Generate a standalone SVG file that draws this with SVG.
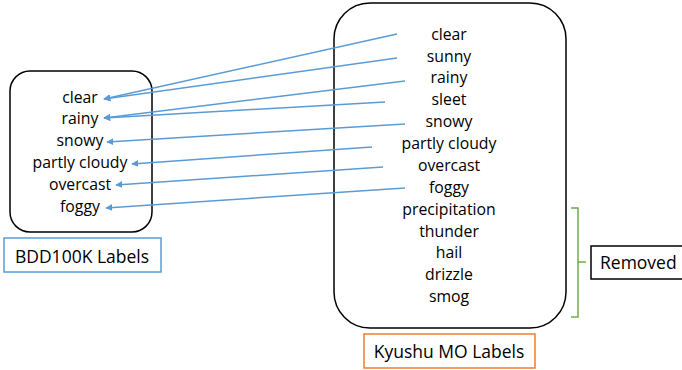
<svg xmlns="http://www.w3.org/2000/svg" width="682" height="370" viewBox="0 0 682 370">
  <defs>
    <marker id="arrow" viewBox="0 0 10 10" refX="9" refY="5" markerWidth="7" markerHeight="7" markerUnits="userSpaceOnUse" orient="auto">
      <path d="M0,0 L10,5 L0,10 Z" fill="#5B9BD5"/>
    </marker>
    <style>
      .box { fill: #fff; stroke: #000; stroke-width: 1.5; }
      .lbl { font-family: "Open Sans", "Liberation Sans", sans-serif; font-size: 15.8px; fill: #000; text-anchor: middle; dominant-baseline: central; }
      .cap { font-family: "Open Sans", "Liberation Sans", sans-serif; font-size: 17.5px; fill: #000; text-anchor: middle; dominant-baseline: central; }
      .conn { stroke: #5B9BD5; stroke-width: 1.5; fill: none; marker-end: url(#arrow); }
    </style>
  </defs>
  <rect width="682" height="370" fill="#fff"/>

  <!-- BDD100K label set -->
  <g id="bdd-box">
    <rect class="box" x="10" y="71" width="142" height="161" rx="20"/>
    <text class="lbl" x="80" y="97">clear</text>
    <text class="lbl" x="80" y="118">rainy</text>
    <text class="lbl" x="80" y="140">snowy</text>
    <text class="lbl" x="80" y="162">partly cloudy</text>
    <text class="lbl" x="80" y="184">overcast</text>
    <text class="lbl" x="80" y="206">foggy</text>
  </g>
  <g id="bdd-caption">
    <rect x="4" y="238" width="157" height="34" fill="#fff" stroke="#5B9BD5" stroke-width="1.5"/>
    <text class="cap" x="82" y="256">BDD100K Labels</text>
  </g>

  <!-- Kyushu MO label set -->
  <g id="kyushu-box">
    <rect class="box" x="334" y="3" width="232" height="325" rx="36"/>
    <text class="lbl" x="449" y="34">clear</text>
    <text class="lbl" x="449" y="56">sunny</text>
    <text class="lbl" x="449" y="77">rainy</text>
    <text class="lbl" x="449" y="99">sleet</text>
    <text class="lbl" x="449" y="121">snowy</text>
    <text class="lbl" x="449" y="143">partly cloudy</text>
    <text class="lbl" x="449" y="165">overcast</text>
    <text class="lbl" x="449" y="187">foggy</text>
    <text class="lbl" x="449" y="209">precipitation</text>
    <text class="lbl" x="449" y="231">thunder</text>
    <text class="lbl" x="449" y="252">hail</text>
    <text class="lbl" x="449" y="274">drizzle</text>
    <text class="lbl" x="449" y="296">smog</text>
  </g>
  <g id="kyushu-caption">
    <rect x="364" y="334" width="171" height="34" fill="#fff" stroke="#ED7D31" stroke-width="1.5"/>
    <text class="cap" x="449" y="351">Kyushu MO Labels</text>
  </g>

  <!-- Brace grouping the unmapped labels -->
  <g id="removed-brace">
    <path d="M571,208 L578,208 L578,262 L586,262 M578,262 L578,317 L571,317" fill="none" stroke="#70AD47" stroke-width="1.5"/>
  </g>
  <g id="removed">
    <rect x="591" y="246" width="95" height="33" fill="#fff" stroke="#000" stroke-width="1.5"/>
    <text class="cap" x="600" y="262" style="text-anchor:start">Removed</text>
  </g>

  <!-- Label mappings -->
  <g id="connectors">
    <line class="conn" x1="397" y1="34" x2="104" y2="99"/>
    <line class="conn" x1="397" y1="58" x2="104" y2="99"/>
    <line class="conn" x1="405" y1="81" x2="104" y2="118"/>
    <line class="conn" x1="385" y1="102" x2="104" y2="118"/>
    <line class="conn" x1="405" y1="124" x2="107" y2="142"/>
    <line class="conn" x1="372" y1="147" x2="132" y2="164"/>
    <line class="conn" x1="383" y1="167" x2="116" y2="185"/>
    <line class="conn" x1="405" y1="188" x2="106" y2="208"/>
  </g>
</svg>
